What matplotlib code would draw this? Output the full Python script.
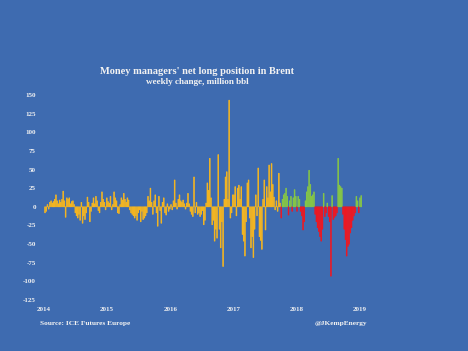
import matplotlib

matplotlib.use("Agg")
import matplotlib.pyplot as plt
import matplotlib.dates as mdates
import numpy as np
import pandas as pd

# weekly change in money managers' net long Brent position, million bbl
chg_2014 = [-8, -6, 3, -3, 6, 8, 5, 7, 10, 16, 8, 4, 9, 6, 10, 21, 8, -14, 12, 10,
            12, 4, 7, 8, 3, -8, -12, -15, -10, -18, 6, -22, -12, -17, -8, 13, 6, -20, -6, 5,
            12, 4, 14, 8, -5, -8, 6, 20, 10, 6, -4, 12]
chg_2015 = [7, 5, 14, -4, 3, 20, 12, 8, -8, -9, 3, 12, 9, 18, 10, 6, 12, 9, -4, -8,
            -10, -12, -15, -12, -18, -8, -4, -20, -6, -17, -15, -12, -8, 14, 8, 25, 6, -10, 8, 16,
            -8, -26, 14, -5, -22, 6, 12, -8, -11, 4, -6, -3]
chg_2016 = [3, -4, 8, 36, 5, -3, 10, 16, 8, 6, 9, 4, -3, 5, 18, 4, -6, -10, -13, 40,
            -8, 6, -10, -8, -13, -10, -5, -24, -18, 5, 32, 22, 65, 12, -24, -18, -46, -30, -42, 70,
            -30, -55, -20, -80, 10, 40, 47, 10, 143, -15, -8, 16]
chg_2017 = [16, 27, -12, 25, 29, 10, 27, -37, -46, -66, -20, 32, 36, -15, -55, -40, -68, -30, 16, -12,
            52, -40, -45, -57, 10, 36, -31, 27, 12, 56, 20, 58, 30, 13, -4, 8, -6, 45, 5, -15,
            10, 16, 18, 25, 14, -11, 8, 14, -6, 12, 23, 14]
chg_2018 = [-6, 14, 10, -6, -12, -31, -20, 8, 20, 27, 49, 30, 14, 16, 20, -10, -20, -28, -33, -40,
            -46, -30, 18, -13, -8, 5, -13, -20, -93, 15, -17, -14, -12, -8, 65, 29, 27, 25, -10, -30,
            -44, -66, -53, -50, -35, -28, -18, -12, -8, 14, 8, -8, 12, 15]

# from early October 2017 the bars switch to green (up) / red (down)
recent_start = "2017-10-01"

y_ticks = [150, 125, 100, 75, 50, 25, 0, -25, -50, -75, -100, -125]
x_years = [2014, 2015, 2016, 2017, 2018, 2019]

BG = "#3E6BB0"
GOLD = "#F6B620"
GREEN = "#86C646"
RED = "#EE1822"
TXT = "#F2F2F2"
SERIF = ["Liberation Serif", "DejaVu Serif"]


def main() -> None:
    values = np.array(chg_2014 + chg_2015 + chg_2016 + chg_2017 + chg_2018, dtype=float)
    dates = pd.date_range("2014-01-07", periods=len(values), freq="7D")

    recent = dates >= pd.Timestamp(recent_start)
    colors = np.where(~recent, GOLD, np.where(values >= 0, GREEN, RED))

    fig = plt.figure(figsize=(4.68, 3.51), dpi=100, facecolor=BG)
    W, H = 468, 351
    left, right, top, bottom = 40, 366, 95, 300
    ax = fig.add_axes([left / W, 1 - bottom / H, (right - left) / W, (bottom - top) / H])
    ax.set_facecolor(BG)

    ax.bar(dates, values, width=4.5, color=colors, edgecolor=colors, linewidth=0.5,
           align="center", snap=False)

    x0 = pd.Timestamp("2014-01-01")
    x1 = pd.Timestamp("2019-01-01")
    px_day = (360 - 44) / (x1 - x0).days
    ax.set_xlim(x0 - pd.Timedelta(days=4 / px_day), x1 + pd.Timedelta(days=6 / px_day))
    ax.set_ylim(-125, 150)

    ax.set_yticks(y_ticks)
    ax.set_yticklabels([str(v) for v in y_ticks])
    ax.set_xticks([pd.Timestamp(f"{y}-01-01") for y in x_years])
    ax.xaxis.set_major_formatter(mdates.DateFormatter("%Y"))

    ax.tick_params(axis="both", length=0, colors=TXT)
    ax.tick_params(axis="y", pad=3)
    ax.tick_params(axis="x", pad=5)
    for lab in ax.get_xticklabels() + ax.get_yticklabels():
        lab.set_fontfamily(SERIF)
        lab.set_fontweight("bold")
        lab.set_fontsize(5)
    for spine in ax.spines.values():
        spine.set_visible(False)

    fig.text(197 / W, 1 - 71 / H, "Money managers' net long position in Brent",
             ha="center", va="center", color=TXT, fontsize=7.5, fontweight="bold", family=SERIF)
    fig.text(197 / W, 1 - 82 / H, "weekly change, million bbl",
             ha="center", va="center", color=TXT, fontsize=6.6, fontweight="bold", family=SERIF)
    fig.text(40 / W, 1 - 323 / H, "Source: ICE Futures Europe",
             ha="left", va="center", color=TXT, fontsize=5.3, fontweight="bold", family=SERIF)
    fig.text(367 / W, 1 - 323 / H, "@JKempEnergy",
             ha="right", va="center", color=TXT, fontsize=5.3, fontweight="bold", family=SERIF)

    fig.savefig("out.png", dpi=100, facecolor=BG)
    plt.close(fig)


if __name__ == "__main__":
    main()
